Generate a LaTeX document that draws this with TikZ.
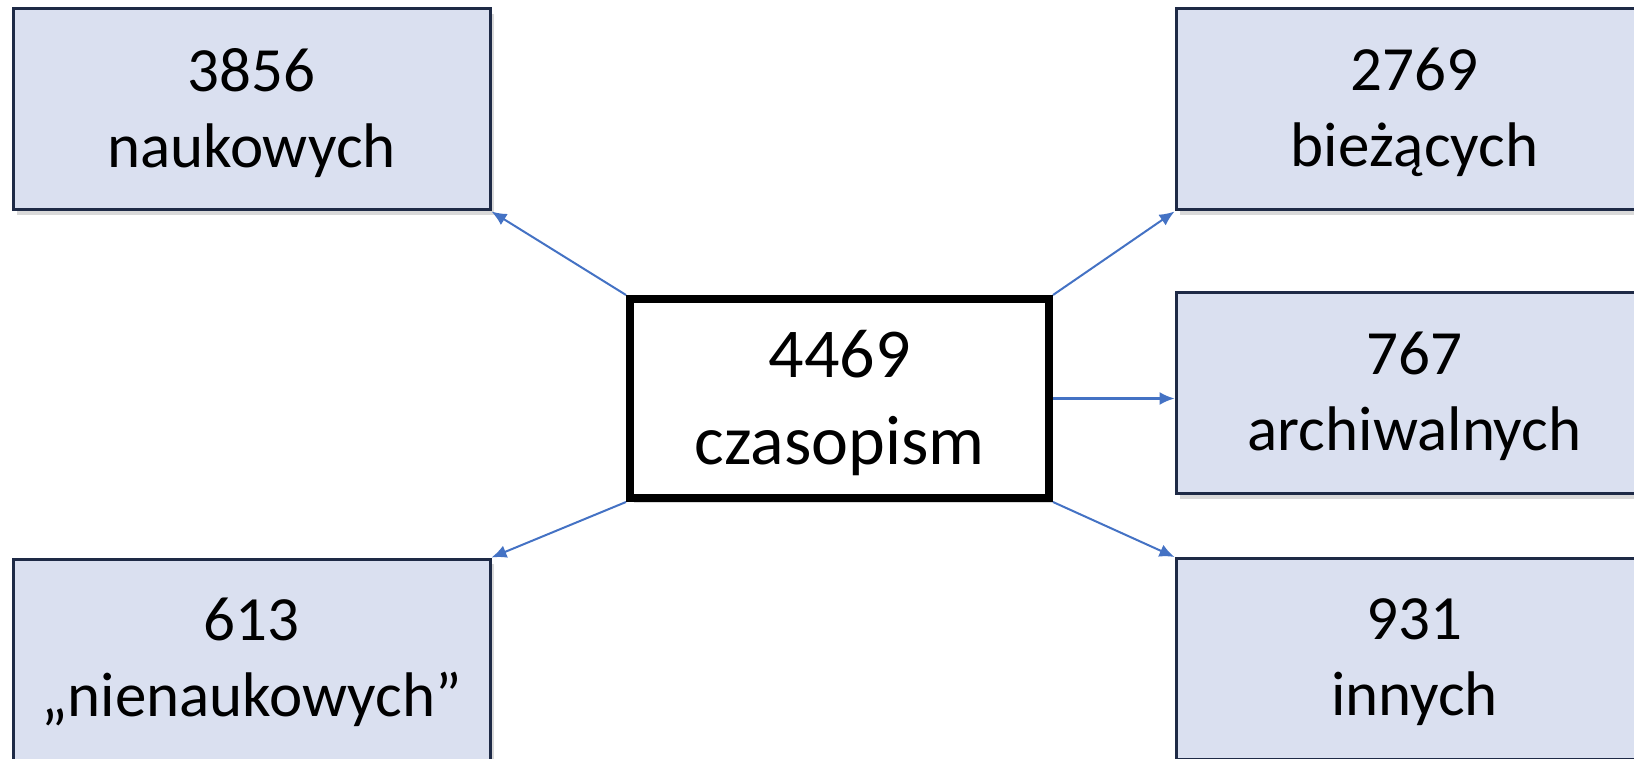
\documentclass[tikz,border=0pt]{standalone}
\usepackage{fontspec}
\setmainfont{Carlito}
\usetikzlibrary{arrows.meta,shadows}
\definecolor{boxfill}{RGB}{218,224,240}
\definecolor{boxline}{RGB}{30,42,70}
\definecolor{linkblue}{RGB}{68,114,196}
\tikzstyle{block} = [draw=boxline, fill=boxfill, rectangle, line width=1.5pt,
    minimum height=100.5pt, minimum width=238.5pt, inner sep=0pt, align=center,
    font=\fontsize{31.5}{38}\selectfont, text depth=2pt,
    drop shadow={shadow xshift=2pt, shadow yshift=-2.5pt, opacity=0.3}]
\tikzstyle{total} = [draw=black, fill=white, rectangle, line width=4pt,
    minimum height=99.5pt, minimum width=209.5pt, inner sep=0pt, align=center,
    font=\fontsize{35}{43.5}\selectfont, text depth=1pt,
    drop shadow={shadow xshift=2pt, shadow yshift=-2.5pt, opacity=0.3}]
\tikzstyle{link} = [->, draw=linkblue, line width=1pt]

\begin{document}
\begin{tikzpicture}[x=0.5pt, y=-0.5pt, >={Latex[length=7.5pt,width=6.5pt]}]
    \useasboundingbox (0,0) rectangle (1634,759);
    \node [total] (centre) at (839.5,398.5) {4469\\czasopism};
    \node [block] (nauk) at (251.5,109.5) {3856\\naukowych};
    \node [block] (biez) at (1414.5,109.5) {2769\\bieżących};
    \node [block] (arch) at (1414.5,393) {767\\archiwalnych};
    \node [block] (nienauk) at (251.5,659.5) {613\\„nienaukowych”};
    \node [block] (inne) at (1414.5,659) {931\\innych};
    \draw [link] (centre.north west) -- (nauk.south east);
    \draw [link] (centre.north east) -- (biez.south west);
    \draw [link] (centre.east) -- (centre.east -| arch.west);
    \draw [link] (centre.south west) -- (nienauk.north east);
    \draw [link] (centre.south east) -- (inne.north west);
\end{tikzpicture}
\end{document}
